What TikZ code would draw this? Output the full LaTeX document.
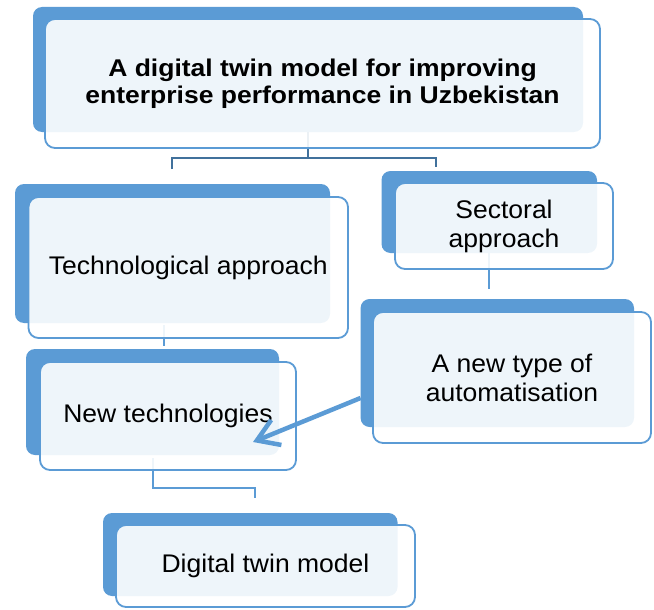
\documentclass[tikz,border=0pt]{standalone}
\usepackage{fontspec}
\setmainfont{Liberation Sans}[FakeStretch=1.04]
\newfontfamily\titlefont{Liberation Sans}[FakeStretch=1.095]
\usetikzlibrary{arrows.meta}
\definecolor{bblue}{HTML}{5B9BD5}
\definecolor{cdark}{HTML}{41719C}
\pgfdeclarelayer{back}
\pgfdeclarelayer{mid}
\pgfdeclarelayer{fg}
\pgfsetlayers{back,mid,main,fg}
\tikzset{
  backbox/.style={fill=bblue, draw=none, rounded corners=9pt, inner sep=0pt, outer sep=0pt},
  frontbox/.style={fill=white, fill opacity=0.9, text opacity=1, draw=bblue, draw opacity=1,
     line width=1.8pt, rounded corners=10pt, inner sep=0pt, outer sep=0pt, align=center,
     font=\fontsize{25.5}{29}\selectfont},
  conn/.style={draw=bblue, line width=2pt},
  conndark/.style={draw=cdark, line width=2.2pt},
  bigarrow/.style={draw=bblue, line width=4.5pt, -{Straight Barb[length=21pt,width=27pt,line width=4.5pt]}},
}
\begin{document}
\begin{tikzpicture}[x=1pt,y=-1pt]
\useasboundingbox (0,0) rectangle (654,610);
\begin{pgfonlayer}{back}
\node[backbox, minimum width=550, minimum height=125] (tb) at (308,69.5) {};
\node[backbox, minimum width=315, minimum height=139] (ab) at (172.5,253.5) {};
\node[backbox, minimum width=215.5, minimum height=82] (sb) at (489.25,212) {};
\node[backbox, minimum width=273.4, minimum height=128] (nb) at (497.3,363) {};
\node[backbox, minimum width=253, minimum height=106] (ntb) at (152.5,402) {};
\node[backbox, minimum width=294.5, minimum height=83] (db) at (250.25,554.5) {};
\end{pgfonlayer}

\node[frontbox, minimum width=555, minimum height=129, font=\titlefont\bfseries\fontsize{24.2}{27.5}\selectfont] (t) at (322.5,83.5)
  {A digital twin model for improving\\enterprise performance in Uzbekistan};
\node[frontbox, minimum width=319.5, minimum height=141] (a) at (188.25,267.5) {Technological approach};
\node[frontbox, minimum width=218, minimum height=86] (s) at (504,226) {Sectoral\\approach};
\node[frontbox, minimum width=278, minimum height=131] (n) at (512,377.5) {A new type of\\automatisation};
\node[frontbox, minimum width=256, minimum height=108] (nt) at (168,416) {New technologies};
\node[frontbox, minimum width=299, minimum height=82] (d) at (265.5,566) {Digital twin model};

\begin{pgfonlayer}{mid}
\coordinate (j1) at (308,158);
\coordinate (e1) at (172,169);
\coordinate (e2) at (436,167);
\draw[conndark] (tb.south) -- (j1);
\draw[conndark] (e1) |- (j1) -| (e2);
\coordinate (e3) at (489.25,289);
\draw[conn] (sb.south) -- (e3);
\coordinate (e4a) at (164,325);
\coordinate (e4b) at (164,346);
\draw[conn] (e4a) -- (e4b);
\coordinate (e5a) at (152.5,458);
\coordinate (e5b) at (254.5,498);
\draw[conn] (e5a) |- (152.5,488) -| (e5b);
\end{pgfonlayer}

\begin{pgfonlayer}{fg}
\coordinate (as) at (360.6,398);
\coordinate (ae) at (253,442);
\draw[bigarrow] (as) -- (ae);
\end{pgfonlayer}
\end{tikzpicture}
\end{document}
